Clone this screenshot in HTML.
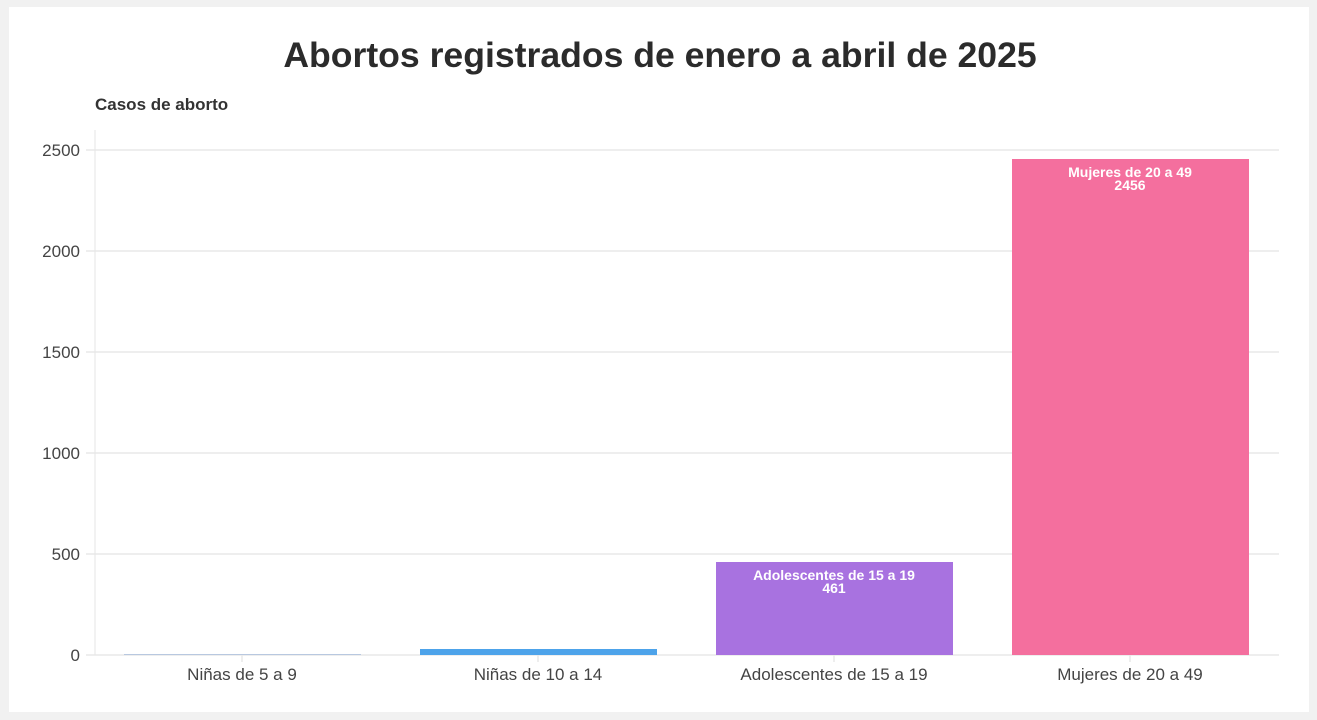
<!DOCTYPE html>
<html><head><meta charset="utf-8"><style>
body{margin:0;background:#f1f1f1;width:1317px;height:720px;overflow:hidden}
svg{display:block;font-family:"Liberation Sans",sans-serif}
</style></head><body>
<svg width="1317" height="720" viewBox="0 0 1317 720">
<rect x="0" y="0" width="1317" height="720" fill="#f1f1f1"/>
<rect x="9" y="7" width="1300" height="705" fill="#fff"/>
<text x="660" y="67" text-anchor="middle" font-size="35.6" font-weight="bold" fill="#2b2b2b">Abortos registrados de enero a abril de 2025</text>
<text x="95" y="110" font-size="17" font-weight="bold" fill="#333">Casos de aborto</text>
<line x1="95" y1="130" x2="95" y2="655" stroke="#e6e6e6" stroke-width="1"/>
<g stroke="#e8e8e8" stroke-width="1.5">
<line x1="86" y1="150" x2="1279" y2="150"/>
<line x1="86" y1="251" x2="1279" y2="251"/>
<line x1="86" y1="352" x2="1279" y2="352"/>
<line x1="86" y1="453" x2="1279" y2="453"/>
<line x1="86" y1="554" x2="1279" y2="554"/>
<line x1="86" y1="655" x2="1279" y2="655"/>
<line x1="242" y1="655" x2="242" y2="662"/>
<line x1="538" y1="655" x2="538" y2="662"/>
<line x1="834" y1="655" x2="834" y2="662"/>
<line x1="1130" y1="655" x2="1130" y2="662"/>
</g>
<g font-size="17" fill="#444" text-anchor="end">
<text x="80" y="156">2500</text>
<text x="80" y="257">2000</text>
<text x="80" y="358">1500</text>
<text x="80" y="459">1000</text>
<text x="80" y="560">500</text>
<text x="80" y="661">0</text>
</g>
<rect x="124" y="654" width="237" height="1" fill="#b8c8e0"/>
<rect x="420" y="649" width="237" height="6" fill="#4da3ea"/>
<rect x="716" y="562" width="237" height="93" fill="#a872e0"/>
<rect x="1012" y="159" width="237" height="496" fill="#f46f9e"/>
<g font-size="14" font-weight="bold" fill="#fff" text-anchor="middle">
<text x="834" y="580">Adolescentes de 15 a 19</text>
<text x="834" y="593">461</text>
<text x="1130" y="177">Mujeres de 20 a 49</text>
<text x="1130" y="190">2456</text>
</g>
<g font-size="17" fill="#444" text-anchor="middle">
<text x="242" y="680">Niñas de 5 a 9</text>
<text x="538" y="680">Niñas de 10 a 14</text>
<text x="834" y="680">Adolescentes de 15 a 19</text>
<text x="1130" y="680">Mujeres de 20 a 49</text>
</g>
</svg>
</body></html>
